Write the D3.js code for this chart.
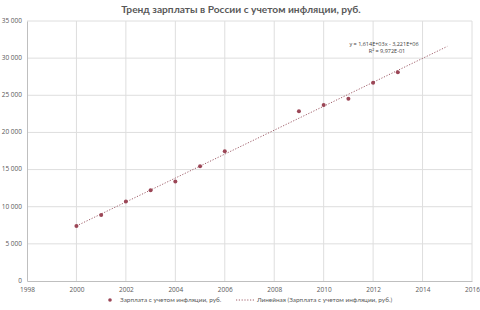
<!DOCTYPE html>
<html>
<head>
<meta charset="utf-8">
<script src="https://cdn.jsdelivr.net/npm/d3@7"></script>
<style>
  body { margin: 0; background: #fff; }
</style>
</head>
<body>
<script>
// chart data
var years = [2000, 2001, 2002, 2003, 2004, 2005, 2006, 2009, 2010, 2011, 2012, 2013];
var salary = [7400, 8900, 10700, 12200, 13400, 15450, 17450, 22850, 23700, 24550, 26700, 28100];
var xTicks = [1998, 2000, 2002, 2004, 2006, 2008, 2010, 2012, 2014, 2016];
var yTicks = [0, 5000, 10000, 15000, 20000, 25000, 30000, 35000];
var trendEnd = 2015;
var title = "Тренд зарплаты в России с учетом инфляции, руб.";
var seriesName = "Зарплата с учетом инфляции, руб.";
var trendName = "Линейная (Зарплата с учетом инфляции, руб.)";
var equation = "y = 1,614E+03x - 3,221E+06";
var rSquared = "R² = 9,972E-01";

var width = 480, height = 310;
var margin = {top: 21, right: 8, bottom: 29, left: 27};

var svg = d3.select("body").append("svg")
    .attr("width", width)
    .attr("height", height)
    .style("font-family", "'Open Sans', sans-serif");

var x = d3.scaleLinear().domain([1998, 2016]).range([margin.left, width - margin.right]);
var y = d3.scaleLinear().domain([0, 35000]).range([height - margin.bottom, margin.top]);

// title
svg.append("text")
    .attr("x", 241).attr("y", 12.5)
    .attr("text-anchor", "middle")
    .style("font-family", "Lato, sans-serif")
    .attr("font-size", 10.2)
    .attr("font-weight", "bold")
    .attr("fill", "#595959")
    .text(title);

// gridlines
svg.append("g").selectAll("line")
    .data(yTicks.slice(1))
    .enter().append("line")
    .attr("x1", x(1998)).attr("x2", x(2016))
    .attr("y1", d => y(d)).attr("y2", d => y(d))
    .attr("stroke", "#dedede").attr("stroke-width", 1);

svg.append("g").selectAll("line")
    .data(xTicks.slice(1))
    .enter().append("line")
    .attr("x1", d => x(d)).attr("x2", d => x(d))
    .attr("y1", y(0)).attr("y2", y(35000))
    .attr("stroke", "#dedede").attr("stroke-width", 1);

// axes
var yAxis = svg.append("g")
    .attr("transform", "translate(" + margin.left + ",0)")
    .call(d3.axisLeft(y).tickValues(yTicks).tickSize(0).tickPadding(5)
      .tickFormat(d => d3.format(",")(d).replace(",", " ")));
yAxis.select(".domain").attr("stroke", "#bfbfbf");
yAxis.selectAll(".tick text").attr("dy", "0.2em");

var xAxis = svg.append("g")
    .attr("transform", "translate(0," + y(0) + ")")
    .call(d3.axisBottom(x).tickValues(xTicks).tickSize(0).tickPadding(6).tickFormat(d3.format("d")));
xAxis.select(".domain").attr("stroke", "#bfbfbf");

svg.selectAll(".tick text")
    .style("font-family", "'Open Sans', sans-serif")
    .attr("font-size", 6.5)
    .attr("fill", "#595959");

// linear trend (least squares)
var mx = d3.mean(years), my = d3.mean(salary);
var slope = d3.sum(years, (d, i) => (d - mx) * (salary[i] - my)) / d3.sum(years, d => (d - mx) * (d - mx));
var intercept = my - slope * mx;
var trend = [years[0], trendEnd].map(d => [d, slope * d + intercept]);

svg.append("path")
    .datum(trend)
    .attr("d", d3.line().x(d => x(d[0])).y(d => y(d[1])))
    .attr("fill", "none")
    .attr("stroke", "#a0606b")
    .attr("stroke-width", 1)
    .attr("stroke-dasharray", "1.2,1.6");

// points
svg.append("g").selectAll("circle")
    .data(years)
    .enter().append("circle")
    .attr("cx", d => x(d))
    .attr("cy", (d, i) => y(salary[i]))
    .attr("r", 2)
    .attr("fill", "#9b4656");

// equation
svg.append("text")
    .attr("x", 384).attr("y", 46)
    .attr("text-anchor", "middle")
    .attr("font-size", 5.5)
    .attr("fill", "#404040")
    .text(equation);
svg.append("text")
    .attr("x", 387).attr("y", 53)
    .attr("text-anchor", "middle")
    .attr("font-size", 5.5)
    .attr("fill", "#404040")
    .text(rSquared);

// legend
var legY = 300;
svg.append("circle")
    .attr("cx", 110).attr("cy", legY)
    .attr("r", 1.8)
    .attr("fill", "#9b4656");
svg.append("text")
    .attr("x", 120).attr("y", legY + 2)
    .style("font-family", "Lato, sans-serif")
    .attr("font-size", 6.4)
    .attr("fill", "#595959")
    .text(seriesName);
svg.append("line")
    .attr("x1", 236).attr("x2", 254)
    .attr("y1", legY).attr("y2", legY)
    .attr("stroke", "#a0606b")
    .attr("stroke-dasharray", "1.2,1.6");
svg.append("text")
    .attr("x", 257).attr("y", legY + 2)
    .style("font-family", "Lato, sans-serif")
    .attr("font-size", 6.4)
    .attr("fill", "#595959")
    .text(trendName);
</script>
</body>
</html>
